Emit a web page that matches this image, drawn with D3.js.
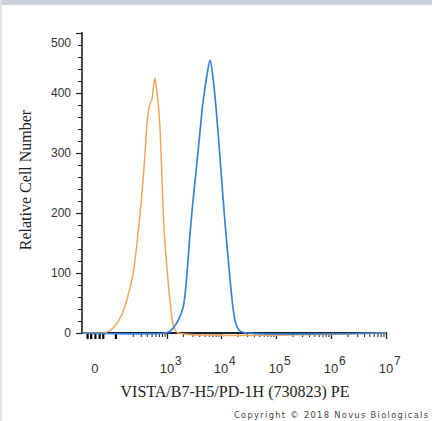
<!DOCTYPE html>
<html><head><meta charset="utf-8">
<script src="https://cdn.jsdelivr.net/npm/d3@7"></script>
<style>body{margin:0;background:#fff;}svg{display:block;}</style>
</head><body>
<script>
// ---- data ----
const orangeIntensity = [-37, 0, 20, 45, 68, 90, 115, 154, 202, 261, 317, 367, 403, 443, 480, 509, 545, 584, 620, 669, 732, 801, 875, 1000, 1140, 1299, 1450, 1614, 1e7];
const orangeCount     = [0, 0, 0, 4, 12, 22, 35, 62, 98, 165, 232, 298, 348, 375, 385, 390, 410, 425, 410, 387, 342, 258, 175, 108, 53, 15, 4, 0, 0];
const blueIntensity = [-37, 915, 1140, 1545, 2002, 2376, 2700, 3069, 3638, 4128, 4690, 5553, 6304, 7155, 8122, 8834, 10020, 10900, 12890, 14630, 16590, 18810, 22270, 29850, 1e7];
const blueCount     = [0, 0, 3, 17, 42, 100, 165, 220, 285, 335, 385, 430, 455, 425, 375, 335, 270, 225, 145, 90, 42, 15, 3, 0, 0];
const yMajor = [0, 100, 200, 300, 400, 500];
const xDecades = [3, 4, 5, 6, 7];
const xNearZero = [-20, -10, 0, 10, 20, 70];
const xZeroLabel = "0";
const xTitle = "VISTA/B7-H5/PD-1H (730823) PE";
const yTitle = "Relative Cell Number";
const copyright = "Copyright \u00A9 2018 Novus Biologicals";

const W = 432, H = 421;
const svg = d3.select("body").append("svg").attr("width", W).attr("height", H);

// frame
svg.append("rect").attr("x",0).attr("y",0).attr("width",W).attr("height",5).attr("fill","#c9d0dc");
svg.append("rect").attr("x",0).attr("y",0).attr("width",2).attr("height",H).attr("fill","#e2e2e2");

const x = d3.scaleSymlog().constant(51.6).domain([-37, 1e7]).range([82, 386]);
const y = d3.scaleLinear().domain([0, 500]).range([333, 33]);

const xMinor = [];
for (let d = 2; d <= 6; d++) for (let m = 2; m <= 9; m++) xMinor.push(m * Math.pow(10, d));
const xMajorVals = xDecades.map(d => Math.pow(10, d));

const axisColor = "#1f1f1f";
svg.append("g").attr("transform","translate(0,333)")
  .call(d3.axisBottom(x).tickValues(xMinor).tickSize(4).tickFormat(""))
  .call(g => g.select(".domain").remove())
  .call(g => g.selectAll("line").attr("stroke",axisColor).attr("stroke-width",1));
svg.append("g").attr("transform","translate(0,333)")
  .call(d3.axisBottom(x).tickValues(xNearZero).tickSize(6).tickFormat(""))
  .call(g => g.select(".domain").remove())
  .call(g => g.selectAll("line").attr("stroke","#000").attr("stroke-width",2.2));
svg.append("g").attr("transform","translate(0,333)")
  .call(d3.axisBottom(x).tickValues(xMajorVals).tickSize(6).tickFormat(""))
  .call(g => g.select(".domain").remove())
  .call(g => g.selectAll("line").attr("stroke",axisColor).attr("stroke-width",1.3));

// x tick labels
const lab = svg.append("g").attr("font-family","Liberation Sans, Arial, sans-serif").attr("fill","#333");
lab.append("text").attr("x", x(0)).attr("y", 373).attr("text-anchor","middle").attr("font-size",13).text(xZeroLabel);
xDecades.forEach(d => {
  lab.append("text").attr("x", x(Math.pow(10,d))).attr("y", 373).attr("text-anchor","middle").attr("font-size",13).text("10");
  lab.append("text").attr("x", x(Math.pow(10,d)) + 8).attr("y", 365).attr("font-size",12).text(String(d));
});

// y axis
const yMinor = d3.range(0, 501, 20).filter(v => v % 100 !== 0);
svg.append("g").attr("transform","translate(82,0)")
  .call(d3.axisLeft(y).tickValues(yMinor).tickSize(4).tickFormat(""))
  .call(g => g.select(".domain").remove())
  .call(g => g.selectAll("line").attr("stroke",axisColor));
const yAx = svg.append("g").attr("transform","translate(82,0)")
  .call(d3.axisLeft(y).tickValues(yMajor).tickSize(6).tickPadding(5))
  .call(g => g.select(".domain").remove())
  .call(g => g.selectAll("line").attr("stroke",axisColor).attr("stroke-width",1.2));
yAx.selectAll("text").attr("font-family","Liberation Sans, Arial, sans-serif").attr("font-size",12).attr("fill","#333")
  .attr("dy", d => d === 500 ? "1.1em" : "0.32em");

// axis lines
svg.append("line").attr("x1",82).attr("x2",82).attr("y1",y(500)-1).attr("y2",334).attr("stroke",axisColor).attr("stroke-width",1.6);
svg.append("line").attr("x1",81).attr("x2",x(1e7)+1).attr("y1",333).attr("y2",333).attr("stroke","#1a2340").attr("stroke-width",1.8);

// curves
const line = d3.line().x(d => x(d[0])).y(d => y(Math.max(0, d[1]))).curve(d3.curveCatmullRom.alpha(0.5));
const orange = orangeIntensity.map((v,i) => [v, orangeCount[i]]);
const blue = blueIntensity.map((v,i) => [v, blueCount[i]]);
svg.append("path").datum(orange).attr("d", line).attr("fill","none").attr("stroke","#f3a65a").attr("stroke-width",1.5);
svg.append("path").datum(blue).attr("d", line).attr("fill","none").attr("stroke","#3a84d6").attr("stroke-width",1.7);

// titles
svg.append("text").attr("transform","translate(31,180) rotate(-90)").attr("text-anchor","middle")
  .attr("font-family","Liberation Serif, Times New Roman, serif").attr("font-size",16).attr("fill","#222").text(yTitle);
svg.append("text").attr("x",235).attr("y",397).attr("text-anchor","middle")
  .attr("font-family","Liberation Serif, Times New Roman, serif").attr("font-size",16).attr("fill","#222").text(xTitle);
svg.append("text").attr("x",234).attr("y",418).attr("textLength",194).attr("lengthAdjust","spacing")
  .attr("font-family","DejaVu Sans, sans-serif").attr("font-size",8.3).attr("fill","#444").text(copyright);
</script>
</body></html>
